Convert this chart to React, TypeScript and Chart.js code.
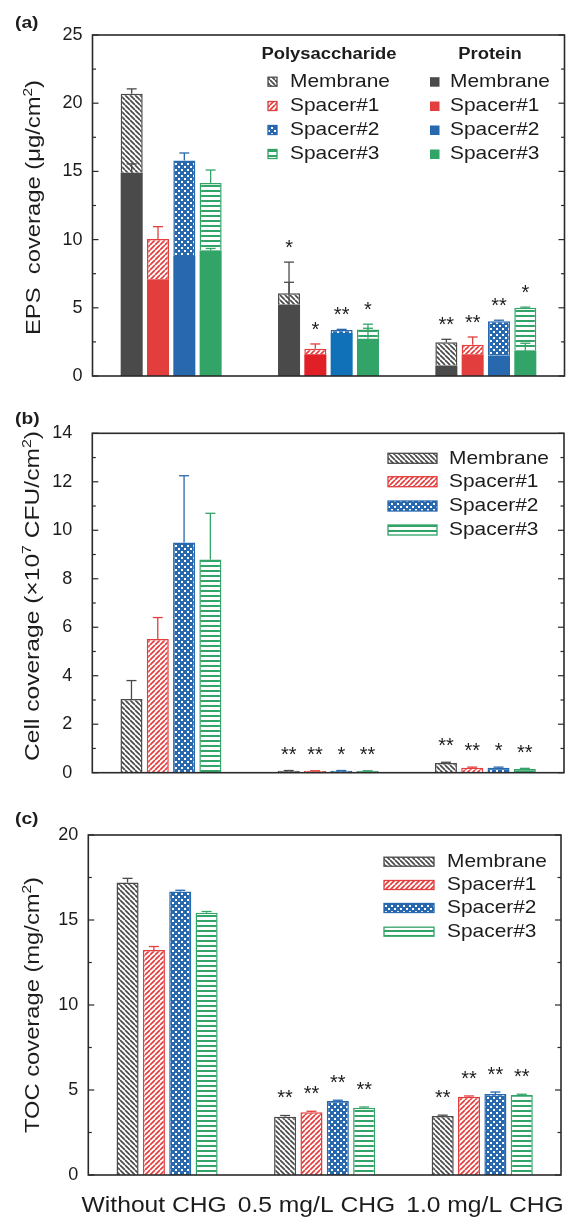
import React, { useEffect, useRef } from 'react';
import { Chart, registerables } from 'chart.js';

Chart.register(...registerables);

// ---------- shared categories / series ----------
const groups = ['Without CHG', '0.5 mg/L CHG', '1.0 mg/L CHG'];
const seriesNames = ['Membrane', 'Spacer#1', 'Spacer#2', 'Spacer#3'];
const seriesColors = ['#4a4a4a', '#e33e3e', '#2868ae', '#32a467'];
const seriesPatterns = ['back', 'fwd', 'dots', 'hlines'];

// ---------- panel (a): EPS coverage (µg/cm2), stacked protein + polysaccharide ----------
const epsProteinMembrane = [14.9, 5.25, 0.77];
const epsProteinSpacer1 = [7.1, 1.6, 1.6];
const epsProteinSpacer2 = [8.8, 3.15, 1.5];
const epsProteinSpacer3 = [9.2, 2.74, 1.85];
const epsPolyMembrane = [5.8, 0.82, 1.7];
const epsPolySpacer1 = [2.95, 0.4, 0.7];
const epsPolySpacer2 = [7.0, 0.22, 2.52];
const epsPolySpacer3 = [4.95, 0.66, 3.15];
const epsPolyErrMembrane = [0.35, 2.28, 0.22];
const epsPolyErrSpacer1 = [0.9, 0.35, 0.56];
const epsPolyErrSpacer2 = [0.55, 0.05, 0.07];
const epsPolyErrSpacer3 = [0.95, 0.4, 0.05];
const epsProteinErrMembrane = [0.65, 1.62, 0];
const epsProteinErrSpacer1 = [0, 0, 0];
const epsProteinErrSpacer2 = [0, 0, 0];
const epsProteinErrSpacer3 = [0.15, 0.76, 0.55];
const epsStarsMembrane = ['', '*', '**'];
const epsStarsSpacer1 = ['', '*', '**'];
const epsStarsSpacer2 = ['', '**', '**'];
const epsStarsSpacer3 = ['', '*', '*'];
const epsTicks = [0, 5, 10, 15, 20, 25];

// ---------- panel (b): cell coverage (x10^7 CFU/cm2) ----------
const cellMembrane = [3.04, 0.08, 0.4];
const cellSpacer1 = [5.52, 0.07, 0.2];
const cellSpacer2 = [9.5, 0.08, 0.2];
const cellSpacer3 = [8.79, 0.07, 0.15];
const cellErrMembrane = [0.76, 0.01, 0.03];
const cellErrSpacer1 = [0.88, 0.01, 0.03];
const cellErrSpacer2 = [2.75, 0.01, 0.03];
const cellErrSpacer3 = [1.91, 0.01, 0.03];
const cellStarsMembrane = ['', '**', '**'];
const cellStarsSpacer1 = ['', '**', '**'];
const cellStarsSpacer2 = ['', '*', '*'];
const cellStarsSpacer3 = ['', '**', '**'];
const cellTicks = [0, 2, 4, 6, 8, 10, 12, 14];

// ---------- panel (c): TOC coverage (mg/cm2) ----------
const tocMembrane = [17.2, 3.43, 3.47];
const tocSpacer1 = [13.24, 3.69, 4.6];
const tocSpacer2 = [16.67, 4.35, 4.76];
const tocSpacer3 = [15.43, 3.96, 4.7];
const tocErrMembrane = [0.25, 0.07, 0.05];
const tocErrSpacer1 = [0.2, 0.06, 0.05];
const tocErrSpacer2 = [0.08, 0.05, 0.12];
const tocErrSpacer3 = [0.07, 0.04, 0.05];
const tocStarsMembrane = ['', '**', '**'];
const tocStarsSpacer1 = ['', '**', '**'];
const tocStarsSpacer2 = ['', '**', '**'];
const tocStarsSpacer3 = ['', '**', '**'];
const tocTicks = [0, 5, 10, 15, 20];

// ---------- styling helpers ----------
const FONT = '"Liberation Sans", Arial, Helvetica, sans-serif';
const TEXT = '#1c1c1c';
const AXIS = '#2a2a2a';

function makePattern(kind: string, color: string): CanvasPattern {
  const c = document.createElement('canvas');
  const g = c.getContext('2d') as CanvasRenderingContext2D;
  if (kind === 'back' || kind === 'fwd') {
    const s = 5;
    c.width = s; c.height = s;
    g.fillStyle = '#ffffff'; g.fillRect(0, 0, s, s);
    g.strokeStyle = color; g.lineWidth = 1.7;
    g.beginPath();
    for (const k of [-s, 0, s]) {
      if (kind === 'back') { g.moveTo(k, 0); g.lineTo(k + s, s); }
      else { g.moveTo(k, s); g.lineTo(k + s, 0); }
    }
    g.stroke();
  } else if (kind === 'dots') {
    c.width = 6; c.height = 6;
    g.fillStyle = color; g.fillRect(0, 0, 6, 6);
    g.fillStyle = '#ffffff';
    g.fillRect(1, 1, 2, 2); g.fillRect(4, 4, 2, 2);
  } else {
    c.width = 4; c.height = 5;
    g.fillStyle = '#ffffff'; g.fillRect(0, 0, 4, 5);
    g.fillStyle = color; g.fillRect(0, 0, 4, 2);
  }
  return g.createPattern(c, 'repeat') as CanvasPattern;
}

type Part = { t: string; sup?: boolean };
type ErrSet = { ds: number; errs: number[]; color: string };
type StarSet = { ds: number; errs: number[]; stars: string[] };

function line(ctx: CanvasRenderingContext2D, x1: number, y1: number, x2: number, y2: number) {
  ctx.beginPath(); ctx.moveTo(x1, y1); ctx.lineTo(x2, y2); ctx.stroke();
}

// horizontally stretched text (the source figure's lettering is wide)
function wideText(
  ctx: CanvasRenderingContext2D, text: string, x: number, y: number, font: string,
  align: 'left' | 'center', sx: number, baseline: CanvasTextBaseline = 'middle',
) {
  ctx.save();
  ctx.font = font;
  ctx.fillStyle = TEXT;
  ctx.textBaseline = baseline;
  ctx.textAlign = 'left';
  const w = ctx.measureText(text).width * sx;
  const x0 = align === 'center' ? x - w / 2 : x;
  ctx.translate(x0, y);
  ctx.scale(sx, 1);
  ctx.fillText(text, 0, 0);
  ctx.restore();
}

function drawTitle(ctx: CanvasRenderingContext2D, parts: Part[], x: number, cy: number, length: number) {
  ctx.save();
  ctx.fillStyle = TEXT;
  ctx.textBaseline = 'alphabetic';
  ctx.textAlign = 'left';
  const main = `20px ${FONT}`;
  const sup = `13px ${FONT}`;
  let total = 0;
  const widths = parts.map((p) => {
    ctx.font = p.sup ? sup : main;
    const w = ctx.measureText(p.t).width;
    total += w;
    return w;
  });
  ctx.translate(x, cy);
  ctx.rotate(-Math.PI / 2);
  ctx.scale(length / total, 1);
  let px = -total / 2;
  parts.forEach((p, i) => {
    ctx.font = p.sup ? sup : main;
    ctx.fillText(p.t, px, p.sup ? -8.5 : 0);
    px += widths[i];
  });
  ctx.restore();
}

type DecorCfg = {
  panel: string;
  panelY: number;
  title: Part[];
  titleX: number;
  titleY: number;
  titleLen: number;
  majorStep: number;
  minorStep: number;
  errSets: ErrSet[];
  starSets: StarSet[];
  starGap: number;
  legend: (ctx: CanvasRenderingContext2D) => void;
  xLabelBaseline?: number;
};

function makeDecor(cfg: DecorCfg) {
  return {
    id: 'decor',
    afterDatasetsDraw(chart: any) {
      const ctx: CanvasRenderingContext2D = chart.ctx;
      const y = chart.scales.y;
      ctx.save();
      ctx.lineWidth = 1.3;
      for (const es of cfg.errSets) {
        const meta = chart.getDatasetMeta(es.ds);
        meta.data.forEach((bar: any, j: number) => {
          const e = es.errs[j];
          if (!e) return;
          const topVal = y.getValueForPixel(bar.y);
          const ey = y.getPixelForValue(topVal + e);
          ctx.strokeStyle = es.color;
          line(ctx, bar.x, bar.y, bar.x, ey);
          line(ctx, bar.x - 5, ey, bar.x + 5, ey);
        });
      }
      const fs = 20;
      ctx.font = `${fs}px ${FONT}`;
      ctx.fillStyle = TEXT;
      ctx.textAlign = 'center';
      ctx.textBaseline = 'alphabetic';
      for (const ss of cfg.starSets) {
        const meta = chart.getDatasetMeta(ss.ds);
        meta.data.forEach((bar: any, j: number) => {
          const s = ss.stars[j];
          if (!s) return;
          const topVal = y.getValueForPixel(bar.y);
          const ey = y.getPixelForValue(topVal + (ss.errs[j] || 0));
          const cy = ey - cfg.starGap;
          ctx.fillText(s, bar.x, cy + 0.56 * fs);
        });
      }
      ctx.restore();
    },
    afterDraw(chart: any) {
      const ctx: CanvasRenderingContext2D = chart.ctx;
      const { left, right, top, bottom } = chart.chartArea;
      const y = chart.scales.y;
      ctx.save();
      ctx.strokeStyle = AXIS;
      ctx.lineWidth = 1.2;
      const n = Math.round((y.max - y.min) / cfg.minorStep);
      for (let i = 0; i <= n; i++) {
        const v = y.min + i * cfg.minorStep;
        const py = y.getPixelForValue(v);
        const r = v / cfg.majorStep;
        const major = Math.abs(r - Math.round(r)) < 1e-6;
        const len = major ? 6 : 3.5;
        line(ctx, left, py, left + len, py);
        line(ctx, right, py, right - len, py);
      }
      ctx.lineWidth = 1.6;
      ctx.strokeRect(left, top, right - left, bottom - top);
      ctx.restore();
      wideText(ctx, cfg.panel, 15, cfg.panelY, `bold 17px ${FONT}`, 'left', 1.13);
      drawTitle(ctx, cfg.title, cfg.titleX, cfg.titleY, cfg.titleLen);
      // category labels: laid out in one row under the groups, spread so they do not collide
      if (cfg.xLabelBaseline !== undefined) {
        const xs = chart.scales.x;
        const labels: string[] = xs.getLabels();
        const font = `22px ${FONT}`;
        const sx = 1.12;
        const gap = 11;
        ctx.save();
        ctx.font = font;
        const ws = labels.map((l) => ctx.measureText(l).width * sx);
        ctx.restore();
        const centers = labels.map((_, i) => xs.getPixelForValue(i));
        const mid = centers.reduce((a, b) => a + b, 0) / centers.length;
        const total = ws.reduce((a, b) => a + b, 0) + gap * (labels.length - 1);
        let x = mid - total / 2 - 2;
        labels.forEach((l, i) => {
          wideText(ctx, l, x, cfg.xLabelBaseline as number, font, 'left', sx, 'alphabetic');
          x += ws[i] + gap;
        });
      }
      ctx.save();
      cfg.legend(ctx);
      ctx.restore();
    },
  };
}

const LEGEND_FONT = `19px ${FONT}`;
const LEGEND_SX = 1.1;

function legendBoxes(ctx: CanvasRenderingContext2D, patterns: CanvasPattern[], rows: number[], x0: number, w: number, h: number, tx: number) {
  rows.forEach((ry, i) => {
    ctx.fillStyle = patterns[i];
    ctx.fillRect(x0, ry - h / 2, w, h);
    ctx.strokeStyle = seriesColors[i];
    ctx.lineWidth = 1.3;
    ctx.strokeRect(x0, ry - h / 2, w, h);
    wideText(ctx, seriesNames[i], tx, ry, LEGEND_FONT, 'left', LEGEND_SX);
  });
}

const barOpts = { categoryPercentage: 0.669, barPercentage: 0.837 };

function baseOptions(ticks: number[], padding: any, yWidth: number, tickPad: number, stacked: boolean) {
  return {
    responsive: false,
    animation: false as const,
    devicePixelRatio: 1,
    layout: { padding },
    plugins: { legend: { display: false }, tooltip: { enabled: false } },
    scales: {
      x: {
        display: false,
        stacked,
      },
      y: {
        stacked,
        min: ticks[0],
        max: ticks[ticks.length - 1],
        grid: { display: false, drawTicks: false },
        border: { display: false },
        ticks: {
          stepSize: ticks[1] - ticks[0],
          font: { family: FONT, size: 18 },
          color: TEXT,
          padding: tickPad,
        },
        afterFit: (s: any) => { s.width = yWidth; },
      },
    },
  };
}

export default function App() {
  const refA = useRef<HTMLCanvasElement>(null);
  const refB = useRef<HTMLCanvasElement>(null);
  const refC = useRef<HTMLCanvasElement>(null);

  useEffect(() => {
    const patterns = seriesColors.map((c, i) => makePattern(seriesPatterns[i], c));

    // ----- (a) -----
    const epsProtein = [epsProteinMembrane, epsProteinSpacer1, epsProteinSpacer2, epsProteinSpacer3];
    const epsPoly = [epsPolyMembrane, epsPolySpacer1, epsPolySpacer2, epsPolySpacer3];
    const epsPolyErr = [epsPolyErrMembrane, epsPolyErrSpacer1, epsPolyErrSpacer2, epsPolyErrSpacer3];
    const epsProteinErr = [epsProteinErrMembrane, epsProteinErrSpacer1, epsProteinErrSpacer2, epsProteinErrSpacer3];
    const epsStars = [epsStarsMembrane, epsStarsSpacer1, epsStarsSpacer2, epsStarsSpacer3];
    const proteinColors = [
      seriesColors[0],
      [seriesColors[1], '#e01f27', seriesColors[1]],
      [seriesColors[2], '#1171b8', seriesColors[2]],
      seriesColors[3],
    ];
    const dsA: any[] = [];
    for (let i = 0; i < 4; i++) {
      dsA.push({ label: seriesNames[i] + ' (protein)', data: epsProtein[i], stack: 's' + i, backgroundColor: proteinColors[i], borderWidth: 0, ...barOpts });
      dsA.push({ label: seriesNames[i] + ' (polysaccharide)', data: epsPoly[i], stack: 's' + i, backgroundColor: patterns[i], borderColor: seriesColors[i], borderWidth: 1.5, ...barOpts });
    }
    const errA: ErrSet[] = [];
    const starA: StarSet[] = [];
    for (let i = 0; i < 4; i++) {
      errA.push({ ds: 2 * i + 1, errs: epsPolyErr[i], color: seriesColors[i] });
      errA.push({ ds: 2 * i, errs: epsProteinErr[i], color: seriesColors[i] });
      starA.push({ ds: 2 * i + 1, errs: epsPolyErr[i], stars: epsStars[i] });
    }
    const chartA = new Chart(refA.current as HTMLCanvasElement, {
      type: 'bar',
      data: { labels: groups, datasets: dsA },
      options: baseOptions(epsTicks, { left: 0, right: 3.5, top: 35, bottom: 24 }, 92.5, 10, true) as any,
      plugins: [makeDecor({
        panel: '(a)', panelY: 23,
        title: [{ t: 'EPS  coverage (\u03bcg/cm' }, { t: '2', sup: true }, { t: ')' }],
        titleX: 40, titleY: 207.5, titleLen: 255,
        majorStep: 5, minorStep: 2.5,
        errSets: errA, starSets: starA, starGap: 19.5,
        legend: (ctx) => {
          const hf = `bold 16px ${FONT}`;
          wideText(ctx, 'Polysaccharide', 329, 55, hf, 'center', 1.15);
          wideText(ctx, 'Protein', 490, 55, hf, 'center', 1.15);
          const rows = [81.7, 106, 130, 154];
          legendBoxes(ctx, patterns, rows, 268, 9, 9, 290);
          rows.forEach((ry, i) => {
            ctx.fillStyle = seriesColors[i];
            ctx.fillRect(430, ry - 4.5, 9.5, 9.5);
            wideText(ctx, seriesNames[i], 450, ry, LEGEND_FONT, 'left', LEGEND_SX);
          });
        },
      }) as any],
    });

    // ----- (b) -----
    const cellVals = [cellMembrane, cellSpacer1, cellSpacer2, cellSpacer3];
    const cellErrs = [cellErrMembrane, cellErrSpacer1, cellErrSpacer2, cellErrSpacer3];
    const cellStars = [cellStarsMembrane, cellStarsSpacer1, cellStarsSpacer2, cellStarsSpacer3];
    const chartB = new Chart(refB.current as HTMLCanvasElement, {
      type: 'bar',
      data: {
        labels: groups,
        datasets: cellVals.map((d, i) => ({ label: seriesNames[i], data: d, backgroundColor: patterns[i], borderColor: seriesColors[i], borderWidth: 1.5, ...barOpts })),
      },
      options: baseOptions(cellTicks, { left: 0, right: 4, top: 33.3, bottom: 31.3 }, 92.3, 20, false) as any,
      plugins: [makeDecor({
        panel: '(b)', panelY: 19.5,
        title: [{ t: 'Cell coverage (\u00d710' }, { t: '7', sup: true }, { t: ' CFU/cm' }, { t: '2', sup: true }, { t: ')' }],
        titleX: 39, titleY: 196, titleLen: 330,
        majorStep: 2, minorStep: 1,
        errSets: cellErrs.map((e, i) => ({ ds: i, errs: e, color: seriesColors[i] })),
        starSets: cellStars.map((s, i) => ({ ds: i, errs: cellErrs[i], stars: s })),
        starGap: 21,
        legend: (ctx) => legendBoxes(ctx, patterns, [58.3, 81.7, 106, 130], 388, 49, 10, 449),
      }) as any],
    });

    // ----- (c) -----
    const tocVals = [tocMembrane, tocSpacer1, tocSpacer2, tocSpacer3];
    const tocErrs = [tocErrMembrane, tocErrSpacer1, tocErrSpacer2, tocErrSpacer3];
    const tocStars = [tocStarsMembrane, tocStarsSpacer1, tocStarsSpacer2, tocStarsSpacer3];
    const chartC = new Chart(refC.current as HTMLCanvasElement, {
      type: 'bar',
      data: {
        labels: groups,
        datasets: tocVals.map((d, i) => ({ label: seriesNames[i], data: d, backgroundColor: patterns[i], borderColor: seriesColors[i], borderWidth: 1.5, ...barOpts })),
      },
      options: baseOptions(tocTicks, { left: 0, right: 7, top: 45, bottom: 43 }, 88.3, 10, false) as any,
      plugins: [makeDecor({
        panel: '(c)', panelY: 29.5,
        title: [{ t: 'TOC coverage (mg/cm' }, { t: '2', sup: true }, { t: ')' }],
        titleX: 39, titleY: 215, titleLen: 256,
        majorStep: 5, minorStep: 2.5,
        errSets: tocErrs.map((e, i) => ({ ds: i, errs: e, color: seriesColors[i] })),
        starSets: tocStars.map((s, i) => ({ ds: i, errs: tocErrs[i], stars: s })),
        starGap: 22.5,
        legend: (ctx) => legendBoxes(ctx, patterns, [71.7, 95, 118, 141.7], 384, 50, 9, 447),
        xLabelBaseline: 421.5,
      }) as any],
    });

    return () => {
      chartA.destroy();
      chartB.destroy();
      chartC.destroy();
    };
  }, []);

  const cs = (top: number, h: number): React.CSSProperties => ({ position: 'absolute', left: 0, top, width: 568, height: h, display: 'block' });
  return (
    <div style={{ position: 'absolute', left: 0, top: 0, width: 568, height: 1218, background: '#ffffff', overflow: 'hidden' }}>
      <canvas ref={refA} width={568} height={400} style={cs(0, 400)} />
      <canvas ref={refB} width={568} height={404} style={cs(400, 404)} />
      <canvas ref={refC} width={568} height={428} style={cs(790, 428)} />
    </div>
  );
}
